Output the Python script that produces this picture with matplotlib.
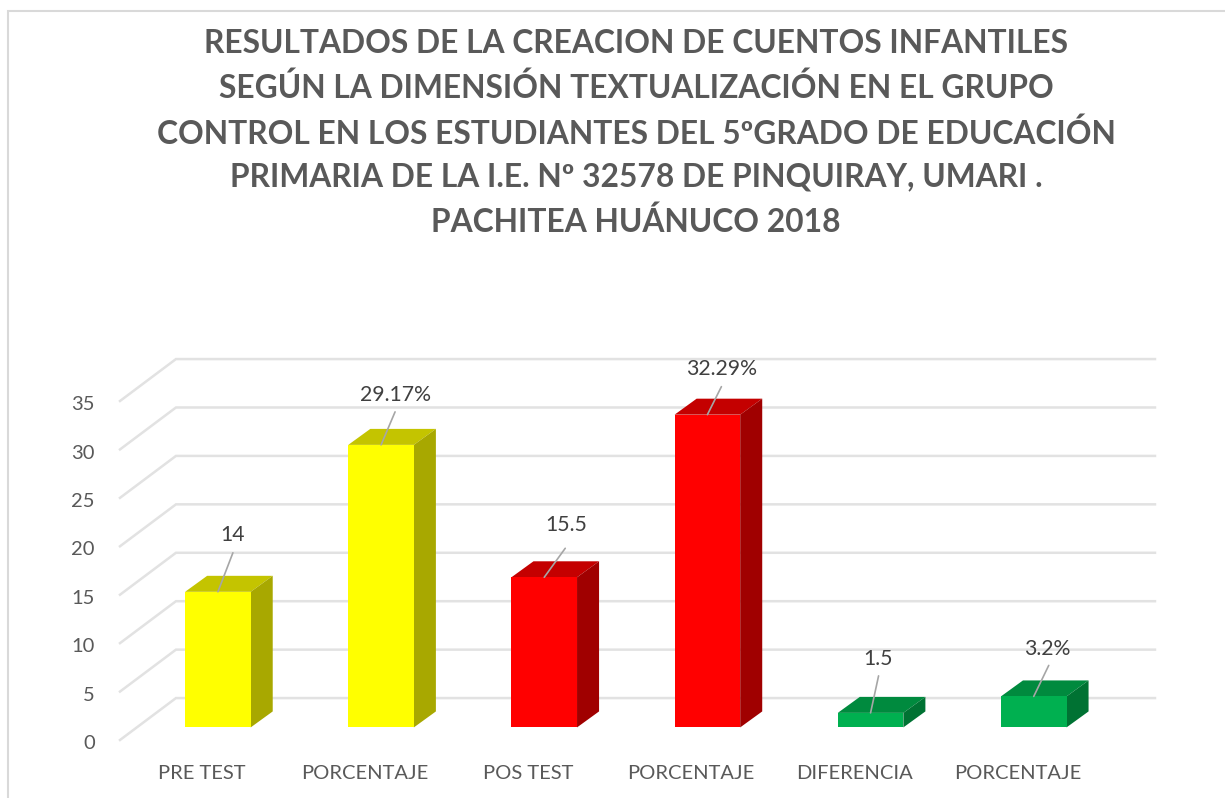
import numpy as np
import matplotlib
matplotlib.use("Agg")
import matplotlib.pyplot as plt
from matplotlib.lines import Line2D
from matplotlib.patches import Polygon
from matplotlib.transforms import ScaledTranslation

categories = ["PRE TEST", "PORCENTAJE", "POS TEST", "PORCENTAJE", "DIFERENCIA", "PORCENTAJE"]
values = [14, 29.17, 15.5, 32.29, 1.5, 3.2]
value_labels = ["14", "29.17%", "15.5", "32.29%", "1.5", "3.2%"]
y_ticks = [0, 5, 10, 15, 20, 25, 30, 35]

title = ("RESULTADOS DE LA CREACION DE CUENTOS INFANTILES\n"
         "SEGÚN LA DIMENSIÓN TEXTUALIZACIÓN EN EL GRUPO\n"
         "CONTROL EN LOS ESTUDIANTES DEL 5ºGRADO DE EDUCACIÓN\n"
         "PRIMARIA DE LA I.E. Nº 32578 DE PINQUIRAY, UMARI .\n"
         "PACHITEA HUÁNUCO 2018")

# front, top, side colours of each bar
front = ["#ffff00", "#ffff00", "#ff0000", "#ff0000", "#00b050", "#00b050"]
top = ["#c4c400", "#c4c400", "#c40000", "#c40000", "#008a3e", "#008a3e"]
side = ["#a8a800", "#a8a800", "#a00000", "#a00000", "#007233", "#007233"]

W, H = 1225, 798
plt.rcParams['font.family'] = ['Lato', 'DejaVu Sans']

fig = plt.figure(figsize=(W / 100, H / 100), dpi=100)
# axes box is the front edge of the 3d floor, in pixels
ax = fig.add_axes([120 / W, (H - 740) / H, 979 / W, 339 / H])
ax.set_xlim(-0.5, 5.5)
ax.set_ylim(0, 35)
for s in ax.spines.values():
    s.set_visible(False)
ax.patch.set_alpha(0)

# depth of the walls and of the bars, in data units
wall_dx, wall_dy = 0.343, 4.33
bar_dx, bar_dy = 0.135, 1.65
bar_base = 1.3
bar_w = 0.402
bar_shift = 0.1

for v in y_ticks:
    ax.plot([-0.5, -0.5 + wall_dx, 5.5 + wall_dx], [v, v + wall_dy, v + wall_dy],
            color="#e2e2e2", lw=1.8, clip_on=False, zorder=1, solid_joinstyle="miter")

x = np.arange(len(values)) + bar_shift
ax.bar(x, values, width=bar_w, bottom=bar_base, color=front, zorder=3, clip_on=False)
for i, v in enumerate(values):
    l, r = x[i] - bar_w / 2, x[i] + bar_w / 2
    t = bar_base + v
    ax.add_patch(Polygon([(l, t), (r, t), (r + bar_dx, t + bar_dy), (l + bar_dx, t + bar_dy)],
                         fc=top[i], ec="none", zorder=2, clip_on=False))
    ax.add_patch(Polygon([(r, bar_base), (r, t), (r + bar_dx, t + bar_dy), (r + bar_dx, bar_base + bar_dy)],
                         fc=side[i], ec="none", zorder=2, clip_on=False))

# leader end / text offsets from top of bar, pixels
leader_off = [(15, 39), (14, 33), (21, 29), (14, 28), (8, 37), (15, 31)]
text_off = [(15, 57), (14, 50), (22, 52), (14, 46), (7, 54), (14, 47)]
for i, v in enumerate(values):
    ax.annotate("", xy=(x[i], bar_base + v), xytext=leader_off[i], textcoords="offset pixels",
                arrowprops=dict(arrowstyle="-", color="#a6a6a6", lw=1.2, shrinkA=0, shrinkB=0),
                zorder=5, annotation_clip=False)
    ax.annotate(value_labels[i], xy=(x[i], bar_base + v), xytext=text_off[i], textcoords="offset pixels",
                ha="center", va="center", fontsize=15.3, color="#404040", zorder=6)

ax.set_xticks(np.arange(len(categories)))
ax.set_xticklabels(categories, fontsize=14.5, color="#595959")
ax.set_yticks(y_ticks)
ax.set_yticklabels([str(v) for v in y_ticks], fontsize=14.5, color="#595959")
ax.tick_params(axis="both", length=0)
ax.tick_params(axis="x", pad=18)
ax.tick_params(axis="y", pad=18)
nudge = ScaledTranslation(0, -1.5 / 72, fig.dpi_scale_trans)
for lab in ax.get_yticklabels():
    lab.set_transform(lab.get_transform() + nudge)

fig.text(636 / W, 1 - 133 / H, title, ha="center", va="center", fontsize=22.9, fontweight="bold",
         color="#595959", linespacing=1.587)

# chart frame, only top and left show in the crop
fig.add_artist(Line2D([8 / W, 8 / W, 1], [0, 1 - 11 / H, 1 - 11 / H], transform=fig.transFigure,
                      color="#d9d9d9", lw=1.5, solid_joinstyle="miter"))

fig.savefig("out.png", dpi=100)
